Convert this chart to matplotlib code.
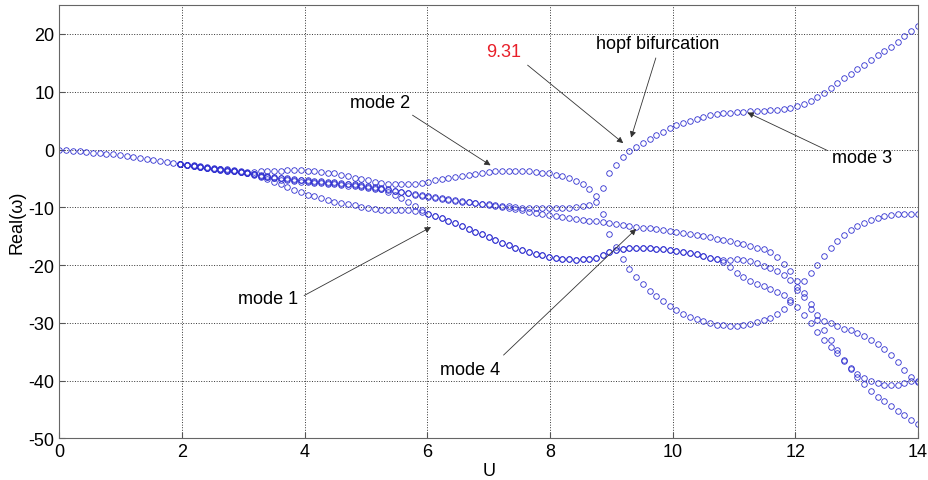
import matplotlib
matplotlib.use("Agg")
import matplotlib.pyplot as plt
import numpy as np

plt.rcParams["font.family"] = ["Liberation Sans", "DejaVu Sans"]
plt.rcParams["axes.unicode_minus"] = False

# flow speed grid (129 samples between 0 and 14)
u = np.linspace(0, 14, 129)

# common start of all branches, U = 0 .. 1.86
re_trunk = [0.0, -0.1, -0.2, -0.3, -0.4, -0.55, -0.65, -0.75, -0.85, -1.0,
            -1.15, -1.3, -1.5, -1.65, -1.85, -2.0, -2.15, -2.3]

# branches from U = 1.97 to 14
re_mode_a = [-2.45, -2.6, -2.75, -2.9, -3.05, -3.2, -3.35, -3.45, -3.6, -3.7,
             -3.85, -3.9, -3.8, -3.75, -3.7, -3.65, -3.6, -3.6, -3.6, -3.65,
             -3.75, -3.85, -4.0, -4.15, -4.35, -4.6, -4.85, -5.1, -5.35, -5.55,
             -5.75, -5.9, -6.0, -6.0, -5.95, -5.9, -5.75, -5.55, -5.35, -5.15,
             -4.95, -4.75, -4.55, -4.4, -4.2, -4.05, -3.9, -3.8, -3.75, -3.7,
             -3.7, -3.75, -3.8, -3.9, -4.0, -4.15, -4.35, -4.6, -4.95, -5.4,
             -6.0, -6.9, -8.0, -6.6, -4.1, -2.6, -1.3, -0.3, 0.5, 1.2,
             1.8, 2.5, 3.1, 3.7, 4.2, 4.6, 5.0, 5.35, 5.65, 5.9,
             6.1, 6.25, 6.4, 6.5, 6.55, 6.6, 6.65, 6.7, 6.75, 6.85,
             7.0, 7.2, 7.5, 7.9, 8.4, 9.0, 9.8, 10.6, 11.5, 12.3,
             13.1, 13.9, 14.7, 15.5, 16.3, 17.1, 17.8, 18.6, 19.6, 20.5,
             21.4]

re_mode_b = [-2.5, -2.65, -2.8, -2.95, -3.15, -3.3, -3.45, -3.6, -3.75, -3.9,
             -4.05, -4.2, -4.4, -4.6, -4.75, -4.9, -5.0, -5.1, -5.2, -5.3,
             -5.4, -5.5, -5.6, -5.7, -5.8, -5.9, -6.0, -6.15, -6.3, -6.5,
             -6.7, -6.9, -7.1, -7.3, -7.5, -7.7, -7.9, -8.05, -8.25, -8.45,
             -8.6, -8.8, -8.95, -9.1, -9.25, -9.4, -9.5, -9.6, -9.75, -9.85,
             -9.95, -10.05, -10.1, -10.15, -10.2, -10.2, -10.2, -10.15, -10.1, -10.0,
             -9.85, -9.6, -9.1, -11.1, -14.6, -16.8, -18.9, -20.6, -22.0, -23.3,
             -24.4, -25.4, -26.2, -27.1, -27.8, -28.4, -28.9, -29.3, -29.7, -30.0,
             -30.3, -30.4, -30.5, -30.5, -30.4, -30.2, -29.9, -29.5, -29.1, -28.5,
             -27.6, -26.4, -24.3, -22.7, -21.4, -20.0, -18.5, -17.0, -15.8, -14.8,
             -14.0, -13.3, -12.7, -12.2, -11.8, -11.5, -11.3, -11.2, -11.1, -11.1,
             -11.1]

re_mode_c = [-2.55, -2.7, -2.85, -3.0, -3.2, -3.35, -3.5, -3.65, -3.8, -3.95,
             -4.1, -4.3, -4.5, -4.8, -5.0, -5.2, -5.3, -5.45, -5.55, -5.65,
             -5.75, -5.85, -5.95, -6.05, -6.15, -6.25, -6.35, -6.45, -6.6, -6.75,
             -6.9, -7.05, -7.2, -7.4, -7.6, -7.8, -8.0, -8.2, -8.35, -8.5,
             -8.7, -8.85, -9.0, -9.15, -9.3, -9.45, -9.6, -9.75, -9.95, -10.15,
             -10.35, -10.55, -10.75, -10.95, -11.1, -11.3, -11.45, -11.65, -11.8, -12.0,
             -12.15, -12.3, -12.45, -12.6, -12.75, -12.9, -13.05, -13.2, -13.35, -13.5,
             -13.65, -13.8, -13.95, -14.1, -14.3, -14.45, -14.6, -14.8, -15.0, -15.2,
             -15.4, -15.6, -15.85, -16.1, -16.4, -16.7, -17.0, -17.3, -17.8, -18.6,
             -19.8, -21.1, -22.8, -24.8, -26.8, -28.6, -29.6, -30.1, -30.6, -31.0,
             -31.3, -31.8, -32.3, -32.9, -33.6, -34.5, -35.5, -36.7, -38.1, -39.4,
             -40.2]

re_mode_d = [-2.55, -2.7, -2.85, -3.05, -3.2, -3.35, -3.5, -3.65, -3.8, -3.95,
             -4.15, -4.35, -4.7, -5.1, -5.6, -6.0, -6.5, -7.0, -7.4, -7.8,
             -8.1, -8.4, -8.7, -9.0, -9.2, -9.45, -9.65, -9.9, -10.1, -10.25,
             -10.4, -10.5, -10.5, -10.5, -10.55, -10.65, -10.8, -11.1, -11.5, -11.9,
             -12.3, -12.7, -13.2, -13.7, -14.2, -14.7, -15.2, -15.7, -16.1, -16.6,
             -17.0, -17.4, -17.7, -18.0, -18.3, -18.55, -18.75, -18.9, -19.0, -19.05,
             -19.0, -18.9, -18.7, -18.3, -17.8, -17.4, -17.2, -17.1, -17.05, -17.05,
             -17.1, -17.15, -17.25, -17.4, -17.55, -17.7, -17.9, -18.1, -18.4, -18.7,
             -19.0, -19.5, -20.3, -21.3, -22.1, -22.7, -23.2, -23.7, -24.2, -24.7,
             -25.2, -26.0, -27.2, -28.7, -30.1, -31.6, -33.0, -34.1, -35.2, -36.6,
             -38.0, -39.4, -40.6, -41.7, -42.8, -43.6, -44.4, -45.2, -46.0, -46.8,
             -47.5]

re_mode_e = [-2.5, -2.65, -2.8, -3.0, -3.15, -3.3, -3.45, -3.6, -3.75, -3.9,
             -4.05, -4.25, -4.5, -4.7, -4.85, -5.0, -5.1, -5.2, -5.3, -5.45,
             -5.55, -5.65, -5.75, -5.85, -5.95, -6.05, -6.15, -6.3, -6.45, -6.65,
             -6.9, -7.3, -7.8, -8.4, -9.1, -9.8, -10.4, -11.1, -11.5, -11.9,
             -12.3, -12.7, -13.2, -13.7, -14.2, -14.7, -15.2, -15.7, -16.1, -16.6,
             -17.0, -17.4, -17.7, -18.0, -18.3, -18.55, -18.75, -18.9, -19.0, -19.05,
             -19.0, -18.9, -18.7, -18.3, -17.8, -17.4, -17.2, -17.1, -17.05, -17.05,
             -17.1, -17.15, -17.25, -17.4, -17.55, -17.7, -17.9, -18.1, -18.4, -18.7,
             -19.0, -19.1, -19.1, -19.0, -19.1, -19.3, -19.7, -20.1, -20.5, -21.0,
             -21.7, -22.6, -23.8, -25.6, -27.6, -29.5, -31.3, -33.0, -34.7, -36.4,
             -37.8, -38.8, -39.5, -40.0, -40.4, -40.7, -40.8, -40.7, -40.4, -40.0,
             -40.0]

branches = [re_mode_a, re_mode_b, re_mode_c, re_mode_d, re_mode_e]
n_trunk = len(re_trunk)

fig = plt.figure(figsize=(9.29, 4.81), dpi=100)
ax = fig.add_axes([0.064, 0.0863, 0.924, 0.9012])

mk = dict(linestyle="none", marker="o", markersize=4.0, markerfacecolor="none",
          markeredgecolor="#3030d0", markeredgewidth=0.6)

# shared part drawn once, then each branch
ax.plot(u[:n_trunk], re_trunk, **mk)
for tail in branches:
    ax.plot(u[n_trunk:], tail, **mk)

ax.set_xlim(0, 14)
ax.set_ylim(-50, 25)
ax.set_xticks(np.arange(0, 15, 2))
ax.set_yticks(np.arange(-50, 21, 10))
ax.grid(True, linestyle=":", color="#333333", linewidth=0.7)
ax.tick_params(direction="in", labelsize=13, color="#555555", length=4)
for s in ax.spines.values():
    s.set_color("#666666")
ax.set_xlabel("U", fontsize=13, labelpad=1)
ax.set_ylabel("Real(ω)", fontsize=13, labelpad=2)

arrow = dict(arrowstyle="-|>", color="#333333", lw=0.6, mutation_scale=9)

# text labels and their arrows
ax.text(7.25, 17.0, "9.31", color="#e8202a", fontsize=13, ha="center", va="center")
ax.annotate("", xy=(9.23, 0.8), xytext=(7.6, 14.9), arrowprops=arrow)

ax.text(9.76, 18.4, "hopf bifurcation", fontsize=13, ha="center", va="center")
ax.annotate("", xy=(9.31, 1.6), xytext=(9.74, 16.3), arrowprops=arrow)

ax.text(5.23, 8.1, "mode 2", fontsize=13, ha="center", va="center")
ax.annotate("", xy=(7.07, -3.0), xytext=(5.72, 6.2), arrowprops=arrow)

ax.text(13.09, -1.3, "mode 3", fontsize=13, ha="center", va="center")
ax.annotate("", xy=(11.18, 6.6), xytext=(12.57, -0.4), arrowprops=arrow)

ax.text(3.4, -25.8, "mode 1", fontsize=13, ha="center", va="center")
ax.annotate("", xy=(6.1, -13.2), xytext=(3.95, -25.5), arrowprops=arrow)

ax.text(6.7, -38.0, "mode 4", fontsize=13, ha="center", va="center")
ax.annotate("", xy=(9.44, -13.4), xytext=(7.21, -35.9), arrowprops=arrow)

fig.savefig("out.png", dpi=100)
